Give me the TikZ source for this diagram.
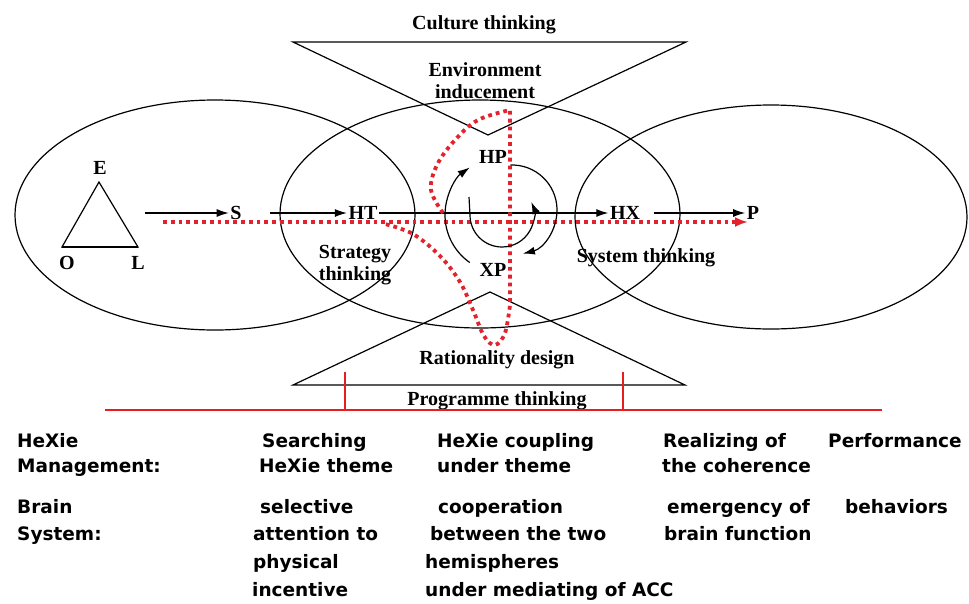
\documentclass[tikz,border=0pt]{standalone}
\usepackage{fontspec}
\setmainfont{Liberation Serif}
\newfontfamily\rowfont{DejaVu Sans}
\usetikzlibrary{arrows.meta,positioning}
\definecolor{dotred}{RGB}{226,34,44}
\definecolor{barred}{RGB}{232,30,30}

\begin{document}
\begin{tikzpicture}[
  x=1pt, y=1pt,
  tag/.style={font=\bfseries\fontsize{20}{22}\selectfont, inner sep=1.5pt, align=center},
  row/.style={font=\rowfont\bfseries\fontsize{18.5}{20}\selectfont, anchor=base west, inner sep=0pt},
  arrow/.style={-{Latex[length=12pt,width=8pt]}, line width=1.2pt},
  outline/.style={line width=1.2pt},
  redpath/.style={draw=dotred, line width=3.8pt, dash pattern=on 3.8pt off 4pt},
  redtip/.style={-{Latex[length=13pt,width=10pt]}}
]
\useasboundingbox (0,0) rectangle (969,-603);

% thinking fields
\draw[outline] (215,-215) ellipse [x radius=200, y radius=115];
\draw[outline] (480,-214) ellipse [x radius=200, y radius=114];
\draw[outline] (771,-217) ellipse [x radius=196, y radius=112];

% hourglass
\draw[outline] (293,-42) -- (686,-42) -- (488,-135) -- cycle;
\draw[outline] (293,-385) -- (685,-385) -- (490,-292) -- cycle;

% E-O-L triangle
\draw[outline, line join=miter] (99,-182) -- (138,-247) -- (62,-247) -- cycle;
\draw[line width=2.2pt] (62,-247) -- (138,-247);
\node[tag] (E) at (100,-168) {E};
\node[tag] (O) at (67,-263) {O};
\node[tag] (L) at (138,-263) {L};

% main chain
\node[tag] (S) at (236,-213) {S};
\node[tag] (HT) at (363,-213) {HT};
\node[tag] (HX) at (625,-213) {HX};
\node[tag] (P) at (753,-213) {P};
\coordinate (s0) at (145,-213);
\coordinate (t0) at (270,-213);
\draw[arrow] (s0) -- (S);
\draw[arrow] (t0) -- (HT);
\draw[arrow] (HT) -- (HX);
\draw[arrow, shorten <=12pt] (HX) -- (P);

% red flow
\coordinate (r0) at (163,-222);
\coordinate (r1) at (748,-222);
\draw[redpath, redtip] (r0) -- (r1);
\draw[redpath, line join=round]
  plot[smooth, tension=0.6] coordinates {(443,-213) (431,-190) (437,-165)
    (455,-140) (478,-120) (510,-110)}
  -- (510,-305)
  -- plot[smooth, tension=0.6] coordinates {(510,-305) (505,-333) (495,-345)
    (484,-336) (473,-310) (460,-282) (440,-256) (413,-234) (385,-224)};

% HP / XP cycle
\node[tag] (HP) at (493,-157) {HP};
\node[tag] (XP) at (493,-270) {XP};
\coordinate (c1) at (503,-215);
\coordinate (c2) at (512,-210);
\draw[arrow] ([shift={(-125:58)}]c1) arc[start angle=-125, end angle=-235, radius=58];
\draw[arrow] ([shift={(92:45)}]c2) arc[start angle=92, end angle=-76, radius=45];
\draw[arrow] (469,-197) -- (470,-215) arc[start angle=180, end angle=384, radius=32];

% field labels
\node[tag] (culture) at (484,-25) {Culture thinking};
\node[tag] (environ) at (485,-81) {Environment\\inducement};
\node[tag] (strategy) at (355,-265) {Strategy\\thinking};
\node[tag] (system) at (646,-258) {System thinking};
\node[tag] (ration) at (497,-360) {Rationality design};
\node[tag] (programme) at (497,-401) {Programme thinking};

% stage bar
\draw[barred, line width=2.5pt] (105,-410) -- (882,-410);
\draw[barred, line width=2.5pt] (345,-372) -- (345,-410);
\draw[barred, line width=2.5pt] (623,-372) -- (623,-410);

% HeXie management row
\node[row] (m1) at (17,-447) {HeXie};
\node[row] (m2) at (17,-472) {Management:};
\node[row] (m3) at (262,-447) {Searching};
\node[row] (m4) at (259,-472) {HeXie theme};
\node[row] (m5) at (437,-447) {HeXie coupling};
\node[row] (m6) at (437,-472) {under theme};
\node[row] (m7) at (663,-447) {Realizing of};
\node[row] (m8) at (662,-472) {the coherence};
\node[row] (m9) at (828,-447) {Performance};

% brain system row
\node[row] (b1) at (17,-513) {Brain};
\node[row] (b2) at (17,-540) {System:};
\node[row] (b3) at (260,-513) {selective};
\node[row] (b4) at (253,-540) {attention to};
\node[row] (b5) at (253,-568) {physical};
\node[row] (b6) at (252,-596) {incentive};
\node[row] (b7) at (438,-513) {cooperation};
\node[row] (b8) at (430,-540) {between the two};
\node[row] (b9) at (425,-568) {hemispheres};
\node[row] (b10) at (425,-596) {under mediating of ACC};
\node[row] (b11) at (667,-513) {emergency of};
\node[row] (b12) at (664,-540) {brain function};
\node[row] (b13) at (845,-513) {behaviors};
\end{tikzpicture}
\end{document}
